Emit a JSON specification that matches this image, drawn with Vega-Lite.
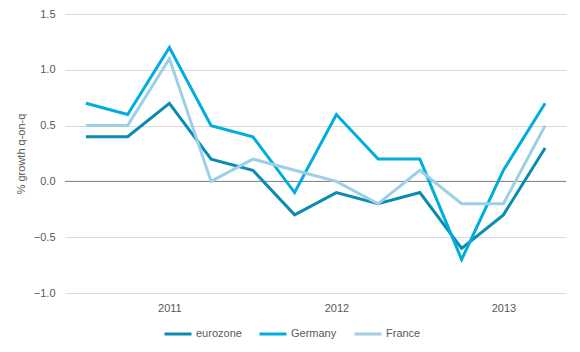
{
  "$schema": "https://vega.github.io/schema/vega-lite/v6.json",
  "width": 501,
  "height": 279,
  "autosize": {"type": "none"},
  "padding": {"left": 65, "top": 14, "right": 14, "bottom": 59},
  "background": "white",
  "config": {
    "view": {"stroke": null},
    "font": "Liberation Sans",
    "axis": {"labelFont": "Liberation Sans", "titleFont": "Liberation Sans", "labelColor": "#595959", "titleColor": "#595959", "labelFontSize": 11, "titleFontSize": 11, "titleFontWeight": "normal"},
    "legend": {"labelFont": "Liberation Sans", "labelColor": "#595959", "labelFontSize": 11}
  },
  "data": {
    "values": [
      {"q": "2010Q3", "series": "eurozone", "v": 0.4},
      {"q": "2010Q4", "series": "eurozone", "v": 0.4},
      {"q": "2011Q1", "series": "eurozone", "v": 0.7},
      {"q": "2011Q2", "series": "eurozone", "v": 0.2},
      {"q": "2011Q3", "series": "eurozone", "v": 0.1},
      {"q": "2011Q4", "series": "eurozone", "v": -0.3},
      {"q": "2012Q1", "series": "eurozone", "v": -0.1},
      {"q": "2012Q2", "series": "eurozone", "v": -0.2},
      {"q": "2012Q3", "series": "eurozone", "v": -0.1},
      {"q": "2012Q4", "series": "eurozone", "v": -0.6},
      {"q": "2013Q1", "series": "eurozone", "v": -0.3},
      {"q": "2013Q2", "series": "eurozone", "v": 0.3},
      {"q": "2010Q3", "series": "Germany", "v": 0.7},
      {"q": "2010Q4", "series": "Germany", "v": 0.6},
      {"q": "2011Q1", "series": "Germany", "v": 1.2},
      {"q": "2011Q2", "series": "Germany", "v": 0.5},
      {"q": "2011Q3", "series": "Germany", "v": 0.4},
      {"q": "2011Q4", "series": "Germany", "v": -0.1},
      {"q": "2012Q1", "series": "Germany", "v": 0.6},
      {"q": "2012Q2", "series": "Germany", "v": 0.2},
      {"q": "2012Q3", "series": "Germany", "v": 0.2},
      {"q": "2012Q4", "series": "Germany", "v": -0.7},
      {"q": "2013Q1", "series": "Germany", "v": 0.1},
      {"q": "2013Q2", "series": "Germany", "v": 0.7},
      {"q": "2010Q3", "series": "France", "v": 0.5},
      {"q": "2010Q4", "series": "France", "v": 0.5},
      {"q": "2011Q1", "series": "France", "v": 1.1},
      {"q": "2011Q2", "series": "France", "v": 0.0},
      {"q": "2011Q3", "series": "France", "v": 0.2},
      {"q": "2011Q4", "series": "France", "v": 0.1},
      {"q": "2012Q1", "series": "France", "v": 0.0},
      {"q": "2012Q2", "series": "France", "v": -0.2},
      {"q": "2012Q3", "series": "France", "v": 0.1},
      {"q": "2012Q4", "series": "France", "v": -0.2},
      {"q": "2013Q1", "series": "France", "v": -0.2},
      {"q": "2013Q2", "series": "France", "v": 0.5}
    ]
  },
  "layer": [
    {
      "data": {"values": [{"z": 0}]},
      "mark": {"type": "rule", "color": "#808080", "strokeWidth": 1},
      "encoding": {"y": {"field": "z", "type": "quantitative", "scale": {"domain": [-1, 1.5]}}}
    },
    {
      "mark": {"type": "line", "strokeWidth": 3},
      "encoding": {
        "x": {
          "field": "q", "type": "ordinal", "sort": null,
          "scale": {"type": "point", "padding": 0.5},
          "axis": {"title": null, "domain": false, "ticks": false, "grid": false, "labelAngle": 0, "labelPadding": 9,
                   "labelExpr": "indexof(datum.value, 'Q1') > 0 ? substring(datum.value, 0, 4) : ''"}
        },
        "y": {
          "field": "v", "type": "quantitative",
          "scale": {"domain": [-1, 1.5], "nice": false, "zero": false},
          "axis": {"title": "% growth q-on-q", "values": [-1, -0.5, 0, 0.5, 1, 1.5], "format": ".1f", "domain": false, "ticks": false, "labelPadding": 10, "gridColor": "#d9d9d9", "titlePadding": 7}
        },
        "color": {
          "field": "series", "type": "nominal",
          "scale": {"domain": ["eurozone", "Germany", "France"], "range": ["#0a8cb2", "#00aedd", "#9dcfe6"]},
          "legend": {"title": null, "orient": "none", "legendX": 98, "legendY": 305, "direction": "horizontal", "symbolType": "stroke", "symbolSize": 729, "symbolStrokeWidth": 3, "labelOffset": 3, "columnPadding": 11}
        },
        "order": {"value": 0}
      }
    }
  ]
}
